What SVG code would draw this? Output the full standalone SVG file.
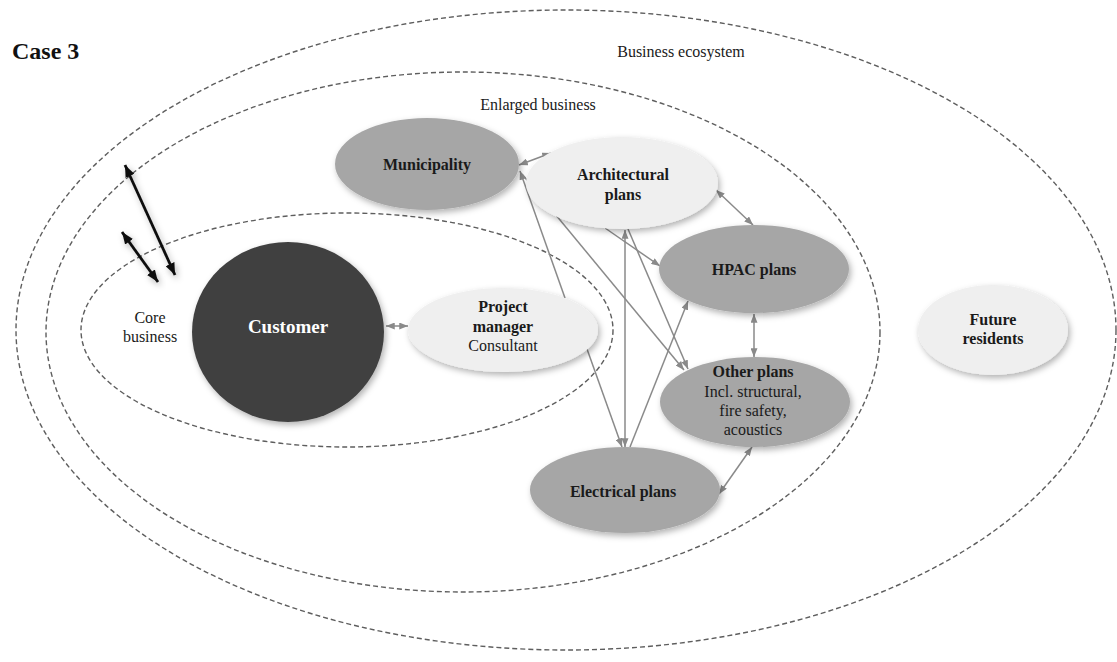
<svg xmlns="http://www.w3.org/2000/svg" width="1117" height="662" viewBox="0 0 1117 662">
<defs>
<style>
.zone{fill:none;stroke:#5e5e5e;stroke-width:1.4;stroke-dasharray:5 3}
.t{font-family:"Liberation Serif","Times New Roman",serif;font-size:16px;fill:#1a1a1a;text-anchor:middle}
.b{font-weight:bold}
.dark{fill:#a6a6a6}
.light{fill:#efefef}
.c{fill:none;stroke:#8a8a8a;stroke-width:1.5}
.k{fill:none;stroke:#111;stroke-width:2.8}
</style>
<filter id="sh" x="-20%" y="-20%" width="140%" height="150%">
<feDropShadow dx="2" dy="3" stdDeviation="3" flood-color="#000" flood-opacity="0.3"/>
</filter>
<marker id="ag" viewBox="0 0 10 8" refX="10" refY="4" markerWidth="9" markerHeight="7" markerUnits="userSpaceOnUse" orient="auto-start-reverse">
<path d="M0,0 L10,4 L0,8 z" fill="#8a8a8a"/>
</marker>
<marker id="ak" viewBox="0 0 10 8" refX="10" refY="4" markerWidth="12" markerHeight="10" markerUnits="userSpaceOnUse" orient="auto-start-reverse">
<path d="M0,0 L10,4 L0,8 z" fill="#111"/>
</marker>
</defs>
<rect width="1117" height="662" fill="#fff"/>

<g id="zones">
<ellipse class="zone" cx="566" cy="330" rx="550" ry="320"/>
<ellipse class="zone" cx="463" cy="332" rx="417" ry="260"/>
<ellipse class="zone" cx="347" cy="330" rx="266" ry="117"/>
<text class="t" x="681" y="57">Business ecosystem</text>
<text class="t" x="538" y="110">Enlarged business</text>
<text class="t" x="150" y="323">Core</text>
<text class="t" x="150" y="342">business</text>
</g>

<text x="12" y="59" font-family="'Liberation Serif','Times New Roman',serif" font-size="24" font-weight="bold" fill="#111">Case 3</text>

<g id="connectors">
<line class="k" x1="125" y1="165" x2="175" y2="275" marker-start="url(#ak)" marker-end="url(#ak)" filter="url(#sh)"/>
<line class="k" x1="122" y1="232" x2="158" y2="282" marker-start="url(#ak)" marker-end="url(#ak)" filter="url(#sh)"/>
<line class="c" x1="519" y1="165" x2="551" y2="153" marker-start="url(#ag)" marker-end="url(#ag)"/>
<line class="c" x1="565" y1="298" x2="520" y2="171" marker-end="url(#ag)"/>
<line class="c" x1="522" y1="174" x2="684" y2="370" marker-end="url(#ag)"/>
<line class="c" x1="628" y1="229" x2="688" y2="369" marker-end="url(#ag)"/>
<line class="c" x1="605" y1="228" x2="660" y2="266" marker-end="url(#ag)"/>
<line class="c" x1="625" y1="230" x2="625" y2="447" marker-start="url(#ag)" marker-end="url(#ag)"/>
<line class="c" x1="587" y1="349" x2="622" y2="447" marker-end="url(#ag)"/>
<line class="c" x1="630" y1="447" x2="688" y2="301" marker-end="url(#ag)"/>
<line class="c" x1="716" y1="190" x2="753" y2="225" marker-start="url(#ag)" marker-end="url(#ag)"/>
<line class="c" x1="754" y1="314" x2="754" y2="357" marker-start="url(#ag)" marker-end="url(#ag)"/>
<line class="c" x1="752" y1="447" x2="719" y2="494" marker-start="url(#ag)" marker-end="url(#ag)"/>
<line class="c" x1="386" y1="326" x2="408" y2="326" marker-start="url(#ag)" marker-end="url(#ag)"/>
</g>

<g id="customer">
<ellipse cx="288" cy="332" rx="96" ry="90" fill="#404040" filter="url(#sh)"/>
<text class="t b" x="288" y="333" style="fill:#fff;font-size:19px">Customer</text>
</g>

<g id="project-manager">
<ellipse class="light" cx="503" cy="330" rx="95" ry="42" filter="url(#sh)"/>
<text class="t b" x="503" y="312">Project</text>
<text class="t b" x="503" y="332">manager</text>
<text class="t" x="503" y="351">Consultant</text>
</g>

<g id="municipality">
<ellipse class="dark" cx="427" cy="164" rx="92" ry="46" filter="url(#sh)"/>
<text class="t b" x="427" y="170">Municipality</text>
</g>

<g id="architectural">
<ellipse class="light" cx="622" cy="183" rx="96" ry="46" filter="url(#sh)"/>
<text class="t b" x="623" y="180">Architectural</text>
<text class="t b" x="623" y="200">plans</text>
</g>

<g id="hpac">
<ellipse class="dark" cx="754" cy="269" rx="95" ry="44" filter="url(#sh)"/>
<text class="t b" x="754" y="275">HPAC plans</text>
</g>

<g id="other-plans">
<ellipse class="dark" cx="755" cy="402" rx="95" ry="45" filter="url(#sh)"/>
<text class="t b" x="753" y="377">Other plans</text>
<text class="t" x="753" y="397">Incl. structural,</text>
<text class="t" x="753" y="416">fire safety,</text>
<text class="t" x="753" y="435">acoustics</text>
</g>

<g id="electrical">
<ellipse class="dark" cx="625" cy="490" rx="95" ry="43" filter="url(#sh)"/>
<text class="t b" x="623" y="497">Electrical plans</text>
</g>

<g id="future-residents">
<ellipse class="light" cx="993" cy="330" rx="75" ry="45" filter="url(#sh)"/>
<text class="t b" x="993" y="325">Future</text>
<text class="t b" x="993" y="344">residents</text>
</g>
</svg>
